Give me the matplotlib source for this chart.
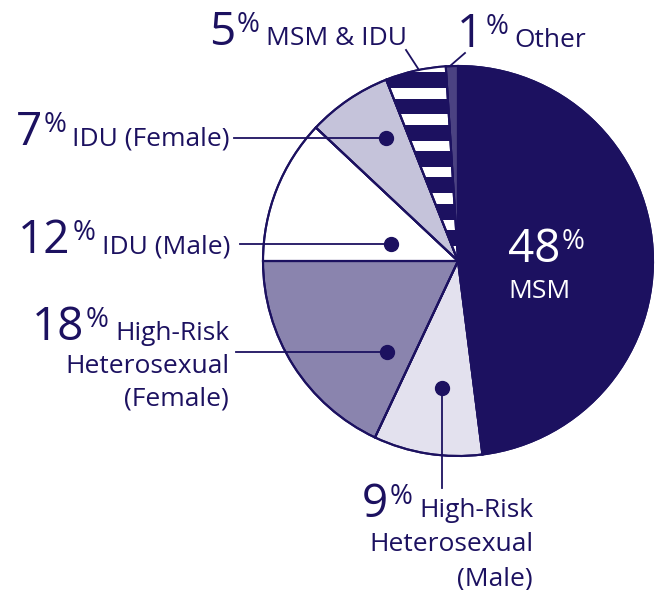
import matplotlib.pyplot as plt
from matplotlib.patches import Rectangle, Wedge
import numpy as np

plt.rcParams['font.family'] = ['Open Sans', 'DejaVu Sans']

# данные
categories = ['MSM', 'High-Risk Heterosexual (Male)', 'High-Risk Heterosexual (Female)',
              'IDU (Male)', 'IDU (Female)', 'MSM & IDU', 'Other']
values = [48, 9, 18, 12, 7, 5, 1]
label_lines = [['MSM'], ['High-Risk', 'Heterosexual', '(Male)'],
               ['High-Risk', 'Heterosexual', '(Female)'],
               ['IDU (Male)'], ['IDU (Female)'], ['MSM & IDU'], ['Other']]
colors = ['#1c1160', '#e3e1ee', '#8a84ae', '#ffffff', '#c5c3da', '#1c1160', '#4b4282']

NAVY = '#1c1160'
CX, CY, R = 458, 261, 195

fig = plt.figure(figsize=(6.59, 5.90), dpi=100)
ax = fig.add_axes([0, 0, 1, 1])

wedges, _ = ax.pie(values, colors=colors, startangle=-90, counterclock=True,
                   center=(CX, CY), radius=R,
                   wedgeprops=dict(edgecolor=NAVY, linewidth=1.5))
ax.set_xlim(0, 659)
ax.set_ylim(590, 0)
ax.set_aspect('equal')
ax.axis('off')

# полосы в секторе MSM & IDU
striped = wedges[5]
for k in range(-1, 8):
    r = Rectangle((CX - 90, 88 + 26.3 * k), 100, 10.5, facecolor='white',
                  edgecolor='none', zorder=2)
    ax.add_patch(r)
    r.set_clip_path(striped)

# контуры поверх полос
for w in wedges:
    ax.add_patch(Wedge(w.center, w.r, w.theta1, w.theta2, fill=False,
                       edgecolor=NAVY, linewidth=1.5, zorder=3))

# точки и выноски: (индекс, угол, радиус, конец линии)
dots = [(4, 120.3, 142, ('h', 234)),
        (3, 165.8, 69, ('h', 240)),
        (2, 232.0, 115, ('h', 236)),
        (1, 263.0, 128, ('v', 488))]
for i, ang, rr, (kind, end) in dots:
    x = CX + rr * np.cos(np.radians(ang))
    y = CY - rr * np.sin(np.radians(ang))
    if kind == 'h':
        ax.plot([end, x], [y, y], color=NAVY, lw=1.3, zorder=4)
    else:
        ax.plot([x, x], [y, end], color=NAVY, lw=1.3, zorder=4)
    ax.plot(x, y, 'o', color=NAVY, ms=10, zorder=5)

ax.plot([406, 419], [50, 70], color=NAVY, lw=1.3)
ax.plot([465, 450], [53, 66], color=NAVY, lw=1.3)

fig.canvas.draw()
renderer = fig.canvas.get_renderer()
inv = ax.transData.inverted()

NUM_SIZE = 33
LAB_SIZE = 19
PCT_SIZE = 20


def left_of(t):
    bb = t.get_window_extent(renderer)
    return inv.transform((bb.x0, bb.y0))[0]


def put_label(idx, right_x, base_y, gap=33, color=NAVY):
    lines = label_lines[idx]
    first = None
    for j, line in enumerate(lines):
        t = ax.text(right_x, base_y + j * gap, line, ha='right', va='baseline',
                    fontsize=LAB_SIZE, color=color)
        if first is None:
            first = t
    x0 = left_of(first) - 6
    pc = ax.text(x0, base_y - 13, '%', ha='right', va='baseline',
                 fontsize=PCT_SIZE, color=color)
    x1 = left_of(pc) - 2
    ax.text(x1, base_y, str(values[idx]), ha='right', va='baseline',
            fontsize=NUM_SIZE, color=color)


put_label(5, 407, 45)
put_label(6, 586, 47)
put_label(4, 230, 145)
put_label(3, 230, 253)
put_label(2, 229, 340)
put_label(1, 533, 517, gap=34)

# подпись внутри MSM
ax.text(560, 262, str(values[0]), ha='right', va='baseline',
        fontsize=NUM_SIZE, color='white')
ax.text(562, 249, '%', ha='left', va='baseline', fontsize=PCT_SIZE, color='white')
ax.text(508, 298, label_lines[0][0], ha='left', va='baseline',
        fontsize=LAB_SIZE, color='white')

plt.savefig('out.png', dpi=100)
